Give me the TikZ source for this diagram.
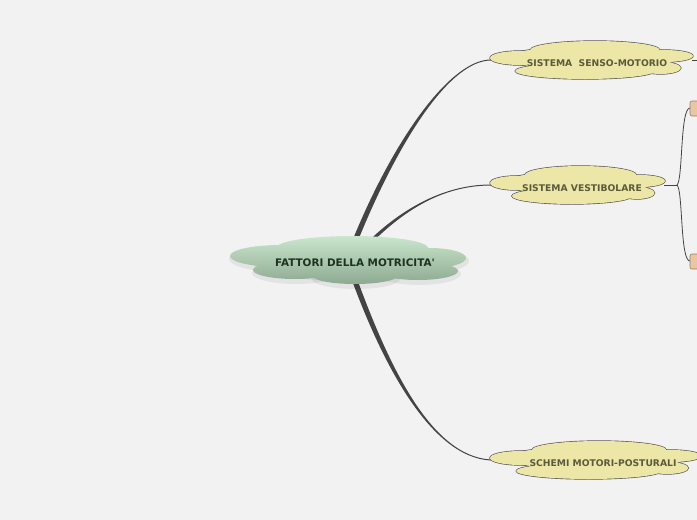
\documentclass[tikz,border=0pt]{standalone}
\usepackage{fontspec}
\setmainfont{DejaVu Sans}[Ligatures=TeXOff]
\usetikzlibrary{calc}

\definecolor{bg}{HTML}{F2F2F2}
\definecolor{branchgray}{HTML}{444444}
\definecolor{cloudyellow}{HTML}{EDE7A7}
\definecolor{cloudedge}{HTML}{555555}
\definecolor{greentop}{HTML}{C9E7CC}
\definecolor{greenbot}{HTML}{8EA991}
\definecolor{tanfill}{HTML}{E9C7A2}
\definecolor{tanedge}{HTML}{A07C5A}
\definecolor{olivetext}{HTML}{5B5A3C}
\definecolor{darkgreen}{HTML}{1E3220}

% lobes of a yellow cloud, half width 100
\def\yellowlobes{0/-2/84/12, 3/-10/64/9, -7/11/69/8, -72/-2/29/7, 72/-4/28/6, 68/8/20/6}
% lobes of the green root cloud
\def\greenlobes{280/256/50/11, 352/248/76/12, 430/258/36/10, 295/270/42/9, 355/276/42/8, 418/271/40/9, 350/262/95/14}

\newcommand{\yellowcloud}[3]{%
  \begin{scope}[shift={(#1,#2)},xscale=#3]
    \foreach \cx/\cy/\rx/\ry in \yellowlobes
      \draw[cloudedge,line width=1.3] (\cx,\cy) ellipse [x radius=\rx, y radius=\ry];
    \foreach \cx/\cy/\rx/\ry in \yellowlobes
      \fill[cloudyellow] (\cx,\cy) ellipse [x radius=\rx, y radius=\ry];
  \end{scope}}

% tapered branch: start, control 1, control 2, end, half width at start, at end
\newcommand{\taper}[6]{%
  \fill[branchgray] ($(#1)+(#5)$) .. controls ($(#2)+(#5)$) and ($(#3)+(#6)$) .. ($(#4)+(#6)$)
    -- ($(#4)-(#6)$) .. controls ($(#3)-(#6)$) and ($(#2)-(#5)$) .. ($(#1)-(#5)$) -- cycle;}

\tikzset{
  roottext/.style={font=\bfseries\fontsize{10.4}{12}\selectfont,text=darkgreen},
  subtext/.style={font=\bfseries\fontsize{9.2}{10}\selectfont,text=olivetext},
  thinbranch/.style={draw=branchgray,line width=0.8},
  leafbox/.style={draw=tanedge,fill=tanfill,rounded corners=2,line width=0.6}
}

\begin{document}
\begin{tikzpicture}[x=1pt,y=-1pt]
  \useasboundingbox (0,0) rectangle (697,520);
  \clip (0,0) rectangle (697,520);
  \fill[bg] (0,0) rectangle (697,520);

  \coordinate (root-n) at (355,241);
  \coordinate (root-ne) at (371,241);
  \coordinate (root-s) at (355,281);
  \coordinate (senso-w) at (491,60);
  \coordinate (vest-w) at (491,185);
  \coordinate (schemi-w) at (491,460);
  \coordinate (vest-e) at (664,185);
  \coordinate (fork) at (677,185);
  \coordinate (leaf1-w) at (690,108);
  \coordinate (leaf2-w) at (690,261);
  \coordinate (senso-e) at (692,60);
  \coordinate (edge-e) at (697,60);

  % main branches
  \taper{root-n}{396,140}{450,60}{senso-w}{-2.8,0}{0,-0.5}
  \taper{root-ne}{400,213}{440,185}{vest-w}{-2.4,0}{0,-0.5}
  \taper{root-s}{385,362}{430,457}{schemi-w}{-2.8,0}{0,0.5}

  % side branches
  \draw[thinbranch] (vest-e) -- (fork);
  \draw[thinbranch] (fork) .. controls (683,180) and (680,108) .. (leaf1-w);
  \draw[thinbranch] (fork) .. controls (683,190) and (680,261) .. (leaf2-w);
  \draw[thinbranch] (senso-e) -- (edge-e);

  % leaves cut by the border
  \draw[leafbox] (690,101) rectangle (730,116);
  \draw[leafbox] (690,254) rectangle (730,269);

  % root cloud
  \foreach \cx/\cy/\rx/\ry in \greenlobes
    \fill[black,opacity=0.06] (\cx+1,\cy+3) ellipse [x radius=\rx+2, y radius=\ry+2];
  \shade[top color=greentop,bottom color=greenbot]
    (280,256) ellipse [x radius=50, y radius=11] (352,248) ellipse [x radius=76, y radius=12]
    (430,258) ellipse [x radius=36, y radius=10] (295,270) ellipse [x radius=42, y radius=9]
    (355,276) ellipse [x radius=42, y radius=8] (418,271) ellipse [x radius=40, y radius=9]
    (350,262) ellipse [x radius=95, y radius=14];
  \node[roottext] (root) at (355,263) {FATTORI DELLA MOTRICITA'};

  % yellow clouds
  \yellowcloud{592}{60}{1.01}
  \node[subtext] (senso) at (597,63) {SISTEMA\ \ SENSO-MOTORIO};
  \yellowcloud{578}{185}{0.87}
  \node[subtext] (vest) at (582,188) {SISTEMA VESTIBOLARE};
  \yellowcloud{596}{460}{1.05}
  \node[subtext] (schemi) at (603,463) {SCHEMI MOTORI-POSTURALI};
\end{tikzpicture}
\end{document}
